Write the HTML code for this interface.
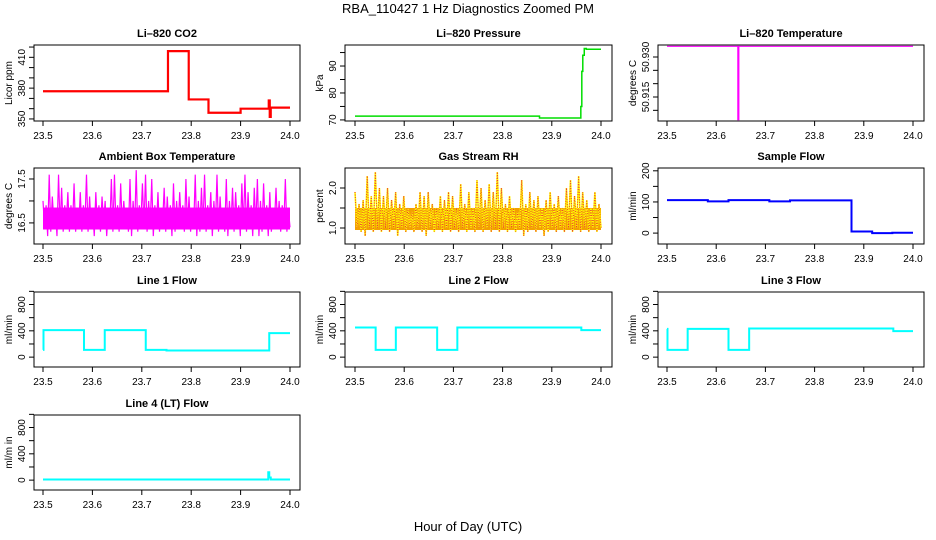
<!DOCTYPE html>
<html><head><meta charset="utf-8"><style>
html,body{margin:0;padding:0;background:#fff}
svg{display:block;font-family:"Liberation Sans",Arial,sans-serif}
</style></head><body>
<svg id="chart" width="936" height="540" viewBox="0 0 936 540">
<text x="468" y="13" font-size="13" text-anchor="middle">RBA_110427  1 Hz Diagnostics Zoomed PM</text>
<text x="468" y="531" font-size="13" text-anchor="middle">Hour of Day (UTC)</text>
</svg>
<script>
// ---- data ----
const xTicks = [23.5, 23.6, 23.7, 23.8, 23.9, 24.0];
const xTickLabels = ["23.5","23.6","23.7","23.8","23.9","24.0"];
const co2Times = [23.5, 23.753, 23.795, 23.835, 23.9, 23.957, 23.959, 23.961];
const co2Values = [377, 416, 369, 356, 360, 368, 352, 361];
const pressTimes = [23.5, 23.875, 23.959, 23.961, 23.963, 23.966, 23.97];
const pressValues = [71.4, 70.7, 75, 88, 94, 96.5, 96.2];
const tempTimes = [23.5, 23.644, 23.646];
const tempValues = [50.934, 50.9065, 50.934];
const ambientBand = [16.35, 16.85];
const ambientValues = [17.0,16.4,16.9,16.2,17.6,16.3,17.1,16.5,16.8,16.2,17.6,16.4,17.3,16.3,16.9,16.5,17.2,16.3,16.9,16.4,17.4,16.3,16.8,16.4,17.2,16.3,16.9,16.5,17.6,16.3,17.1,16.4,16.8,16.2,17.2,16.4,16.9,16.3,17.1,16.5,17.0,16.2,16.8,16.4,17.5,16.3,17.6,16.4,16.9,16.3,17.4,16.4,17.0,16.5,16.8,16.3,17.5,16.2,17.0,16.4,17.7,16.3,16.9,16.5,17.4,16.4,17.6,16.3,17.0,16.4,17.5,16.2,16.9,16.4,17.2,16.3,16.8,16.5,17.3,16.3,17.1,16.4,16.9,16.2,17.4,16.3,17.0,16.4,17.2,16.5,16.9,16.3,17.5,16.4,17.1,16.3,16.8,16.4,17.6,16.2,17.0,16.3,17.3,16.4,17.6,16.3,16.9,16.5,17.2,16.2,17.0,16.4,17.6,16.3,17.1,16.4,16.8,16.3,17.5,16.2,17.0,16.4,17.3,16.3,17.2,16.5,16.9,16.2,17.4,16.4,17.6,16.3,17.2,16.4,16.9,16.2,17.3,16.4,17.5,16.2,17.0,16.3,17.4,16.4,16.9,16.2,17.2,16.3,16.8,16.5,17.3,16.4,17.0,16.3,16.9,16.4,17.5,16.3,16.8,16.4];
const rhBand = [0.95, 1.5];
const rhValues = [1.9,1.0,1.6,0.9,1.7,0.8,2.3,1.0,1.8,0.9,2.4,1.0,2.0,0.9,1.8,1.0,2.0,0.9,1.7,1.0,1.9,0.8,1.6,1.0,1.8,0.9,1.5,1.0,1.4,0.9,1.6,1.0,1.9,0.9,1.8,0.8,1.9,1.0,1.6,0.9,1.5,1.0,1.8,0.9,1.7,1.0,1.9,0.9,1.8,1.0,1.5,0.9,2.1,1.0,1.6,0.9,1.9,1.0,1.5,0.9,2.2,1.0,2.0,0.9,1.7,1.0,2.1,0.9,1.9,1.0,2.4,0.9,2.0,1.0,1.6,0.9,1.8,1.0,1.5,0.9,1.4,1.0,2.2,0.8,1.6,0.9,1.9,1.0,1.7,0.9,1.8,1.0,1.5,0.8,1.7,0.9,1.9,1.0,1.6,0.9,1.8,1.0,1.5,0.9,2.0,1.0,2.2,0.9,1.8,1.0,2.3,0.9,1.9,1.0,1.7,0.9,1.5,1.0,1.9,0.9,1.6,1.0];
const sampleTimes = [23.5, 23.583, 23.625, 23.708, 23.75, 23.875, 23.917, 23.958];
const sampleValues = [106, 102, 106, 102, 105, 5, 0, 1];
const line1Times = [23.5, 23.501, 23.583, 23.625, 23.708, 23.75, 23.958];
const line1Values = [110, 410, 110, 410, 110, 100, 365];
const line2Times = [23.5, 23.542, 23.583, 23.667, 23.708, 23.96];
const line2Values = [450, 110, 450, 110, 450, 410];
const line3Times = [23.5, 23.501, 23.542, 23.625, 23.667, 23.96];
const line3Values = [430, 110, 430, 110, 435, 395];
const line4Times = [23.5, 23.956, 23.958, 23.961];
const line4Values = [10, 120, 40, 10];

// ---- layout ----
const cols = [{l:34,r:300,x0:43,x1:290},{l:345,r:612,x0:355,x1:601},{l:658,r:924,x0:667,x1:913}];
const rows = [{t:45,b:121},{t:168,b:244},{t:292,b:367},{t:415,b:490}];
const NS = "http://www.w3.org/2000/svg";
const svg = document.getElementById('chart');
function mk(tag, attrs, parent){const e=document.createElementNS(NS,tag);for(const k in attrs)e.setAttribute(k,attrs[k]);(parent||svg).appendChild(e);return e;}

function panel(ci, ri, name, title, ylab, ylim, ticks, labels){
  const c=cols[ci], r=rows[ri];
  const g=mk('g',{});
  
  
  const sx=v=>c.x0+(v-23.5)/0.5*(c.x1-c.x0);
  const sy=v=>r.b-(v-ylim[0])/(ylim[1]-ylim[0])*(r.b-r.t);
  const box=mk('rect',{x:c.l,y:r.t,width:c.r-c.l,height:r.b-r.t,fill:'none',stroke:'#000','stroke-width':1},g);
  
  
  const tt=mk('text',{x:(c.l+c.r)/2,y:r.t-8,'font-size':11,'font-weight':'bold','text-anchor':'middle'},g);
  tt.textContent=title;
  
  
  xTicks.forEach((t,i)=>{
    mk('line',{x1:sx(t),x2:sx(t),y1:r.b,y2:r.b+5,stroke:'#000'},g);
    const lb=mk('text',{x:sx(t),y:r.b+18,'font-size':10,'text-anchor':'middle'},g);
    lb.textContent=xTickLabels[i];
    
    
  });
  const ax=c.l;
  ticks.forEach(t=>{
    mk('line',{x1:ax-5,x2:ax,y1:sy(t),y2:sy(t),stroke:'#000'},g);
  });
  labels.forEach(l=>{
    const y=sy(l.v);
    const lb=mk('text',{x:c.l-9,y:y,'font-size':10,'text-anchor':'middle',transform:`rotate(-90 ${c.l-9} ${y})`},g);
    lb.textContent=l.t;
    
    
  });
  const ym=(r.t+r.b)/2;
  const yl=mk('text',{x:c.l-22,y:ym,'font-size':10,'text-anchor':'middle',transform:`rotate(-90 ${c.l-22} ${ym})`},g);
  yl.textContent=ylab;
  
  
  return {g,sx,sy};
}
function stepPath(p, times, vals){
  let d=`M${p.sx(times[0])},${p.sy(vals[0])}`;
  for(let i=1;i<times.length;i++){d+=` H${p.sx(times[i])} V${p.sy(vals[i])}`;}
  d+=` H${p.sx(24)}`;
  return d;
}
function seriesPath(p, vals){
  let d='';
  vals.forEach((v,i)=>{const t=23.5+0.5*i/(vals.length-1);d+=(i?' L':'M')+p.sx(t)+','+p.sy(v);});
  return d;
}
function rng(a,b,s){const o=[];for(let v=a;v<=b+1e-9;v+=s)o.push(+v.toFixed(4));return o;}

// CO2
let p=panel(0,0,'co2','Li\u2013820 CO2','Licor ppm',[348,422],rng(350,420,10),[{v:350,t:'350'},{v:380,t:'380'},{v:410,t:'410'}]);
let e=mk('path',{d:stepPath(p,co2Times,co2Values),fill:'none',stroke:'#f00','stroke-width':2.2},p.g);


// Pressure
p=panel(1,0,'pressure','Li\u2013820 Pressure','kPa',[69.6,97.8],rng(70,95,5),[{v:70,t:'70'},{v:80,t:'80'},{v:90,t:'90'}]);
e=mk('path',{d:stepPath(p,pressTimes,pressValues),fill:'none',stroke:'#0d0','stroke-width':1.5},p.g);


// Temperature
p=panel(2,0,'li820-temp','Li\u2013820 Temperature','degrees C',[50.906,50.9345],rng(50.91,50.93,0.005),[{v:50.915,t:'50.915'},{v:50.93,t:'50.930'}]);
e=mk('path',{d:stepPath(p,tempTimes,tempValues),fill:'none',stroke:'#f0f','stroke-width':1.2},p.g);


// Ambient
p=panel(0,1,'ambient-temp','Ambient Box Temperature','degrees C',[16.02,17.75],[16.5,17.0,17.5],[{v:16.5,t:'16.5'},{v:17.5,t:'17.5'}]);
e=mk('rect',{x:p.sx(23.5),y:p.sy(ambientBand[1]),width:p.sx(24)-p.sx(23.5),height:p.sy(ambientBand[0])-p.sy(ambientBand[1]),fill:'#f0f'},p.g);


e=mk('path',{d:seriesPath(p,ambientValues),fill:'none',stroke:'#f0f','stroke-width':1.2},p.g);


// RH
p=panel(1,1,'gas-rh','Gas Stream RH','percent',[0.6,2.5],[1.0,1.5,2.0],[{v:1.0,t:'1.0'},{v:2.0,t:'2.0'}]);
e=mk('rect',{x:p.sx(23.5),y:p.sy(rhBand[1]),width:p.sx(24)-p.sx(23.5),height:p.sy(rhBand[0])-p.sy(rhBand[1]),fill:'#f2a000'},p.g);


e=mk('path',{d:seriesPath(p,rhValues),fill:'none',stroke:'#ff0','stroke-width':1.6},p.g);


e=mk('path',{d:seriesPath(p,rhValues),fill:'none',stroke:'#e33','stroke-width':1,'stroke-dasharray':'1,1.5'},p.g);


// Sample flow
p=panel(2,1,'sample-flow','Sample Flow','ml/min',[-35,209],[0,50,100,150,200],[{v:0,t:'0'},{v:100,t:'100'},{v:200,t:'200'}]);
e=mk('path',{d:stepPath(p,sampleTimes,sampleValues),fill:'none',stroke:'#00f','stroke-width':2},p.g);


// Lines
const flowTicks=[0,200,400,600,800,1000], flowLabels=[{v:0,t:'0'},{v:400,t:'400'},{v:800,t:'800'}];
const lines=[[0,2,'line1-flow','Line 1 Flow',line1Times,line1Values],[1,2,'line2-flow','Line 2 Flow',line2Times,line2Values],[2,2,'line3-flow','Line 3 Flow',line3Times,line3Values],[0,3,'line4-flow','Line 4 (LT) Flow',line4Times,line4Values]];
lines.forEach(L=>{
  const q=panel(L[0],L[1],L[2],L[3],L[1]==3?'ml/m in':'ml/min',[-150,990],flowTicks,flowLabels);
  const s=mk('path',{d:stepPath(q,L[4],L[5]),fill:'none',stroke:'#0ff','stroke-width':2},q.g);
  
  
});
</script>
</body></html>
